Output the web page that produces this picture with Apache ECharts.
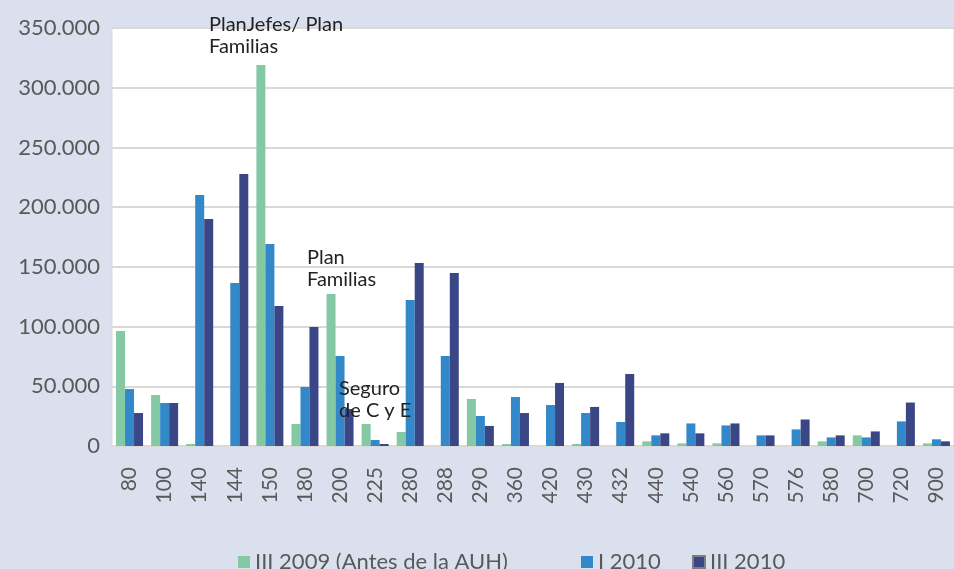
<!DOCTYPE html>
<html>
<head>
<meta charset="utf-8">
<script src="https://cdn.jsdelivr.net/npm/echarts@6/dist/echarts.min.js"></script>
<style>
html,body{margin:0;padding:0;background:#dae0ed;}
#c{width:954px;height:569px;}
</style>
</head>
<body>
<div id="c"></div>
<script>
const categories = ['80','100','140','144','150','180','200','225','280','288','290','360','420','430','432','440','540','560','570','576','580','700','720','900'];
const seriesNames = ['III 2009 (Antes de la AUH)', 'I 2010', 'III 2010'];
const iii2009 = [96300, 42700, 1700, 0, 319100, 18400, 127300, 18400, 11700, 0, 39400, 1700, 0, 1700, 0, 3900, 2200, 2200, 0, 0, 3900, 8900, 0, 2200];
const i2010 = [47700, 36000, 210200, 136500, 169200, 49400, 75400, 5000, 122300, 75400, 25100, 41000, 34300, 27600, 20100, 8900, 18900, 17200, 8900, 13900, 7200, 7200, 20600, 5600];
const iii2010 = [27600, 36000, 190100, 227800, 117250, 99700, 31000, 1700, 153300, 144900, 16800, 27600, 52800, 32700, 60300, 10600, 10600, 18900, 8900, 22200, 8900, 12200, 36400, 3900];
const yTicks = { min: 0, max: 350000, interval: 50000 };
const annotations = [
  { text: 'PlanJefes/ Plan\nFamilias', x: 209, y: 14 },
  { text: 'Plan\nFamilias', x: 307, y: 247 },
  { text: 'Seguro\nde C y E', x: 339, y: 378 }
];

const colors = ['#84c8a4', '#3288c8', '#3b4687'];
const font = 'Lato, "Open Sans", sans-serif';

const chart = echarts.init(document.getElementById('c'));
const fmt = v => v === 0 ? '0' : String(v).replace(/\B(?=(\d{3})+(?!\d))/g, '.');

const seriesData = [iii2009, i2010, iii2010];
const legendLefts = [233, 576, 687];
chart.setOption({
  backgroundColor: '#dae0ed',
  animation: false,
  color: colors,
  grid: {
    left: 112, top: 28, width: 848, height: 418,
    show: true, backgroundColor: '#ffffff', borderColor: '#d9d9d9', borderWidth: 1,
    containLabel: false
  },
  legend: seriesNames.map((n, i) => ({
    left: legendLefts[i], top: 546,
    itemWidth: 12, itemHeight: 12,
    icon: 'rect',
    textStyle: { fontFamily: font, fontSize: 22, color: '#595959' },
    data: [i === 2 ? { name: n, itemStyle: { borderColor: '#7f7f7f', borderWidth: 2 } } : { name: n }]
  })),
  xAxis: {
    type: 'category',
    data: categories,
    axisLine: { show: true, lineStyle: { color: '#d9d9d9', width: 2 } },
    axisTick: { show: false },
    axisLabel: { interval: 0, rotate: 90, margin: 21, fontFamily: font, fontSize: 21, color: '#595959' }
  },
  yAxis: {
    type: 'value',
    min: yTicks.min, max: yTicks.max, interval: yTicks.interval,
    axisLine: { show: false },
    axisTick: { show: false },
    splitLine: { lineStyle: { color: '#d9d9d9', width: 2 } },
    axisLabel: { margin: 12, fontFamily: font, fontSize: 22, color: '#595959', formatter: fmt }
  },
  series: seriesNames.map((n, i) => ({
    name: n,
    type: 'bar',
    data: seriesData[i],
    barWidth: 9,
    barGap: '0%',
    itemStyle: { color: colors[i] }
  })),
  graphic: annotations.map(a => ({
    type: 'text',
    left: a.x, top: a.y,
    z: 100,
    style: { text: a.text, fill: '#222222', font: '20px ' + font, lineHeight: 22 }
  }))
});
</script>
</body>
</html>
